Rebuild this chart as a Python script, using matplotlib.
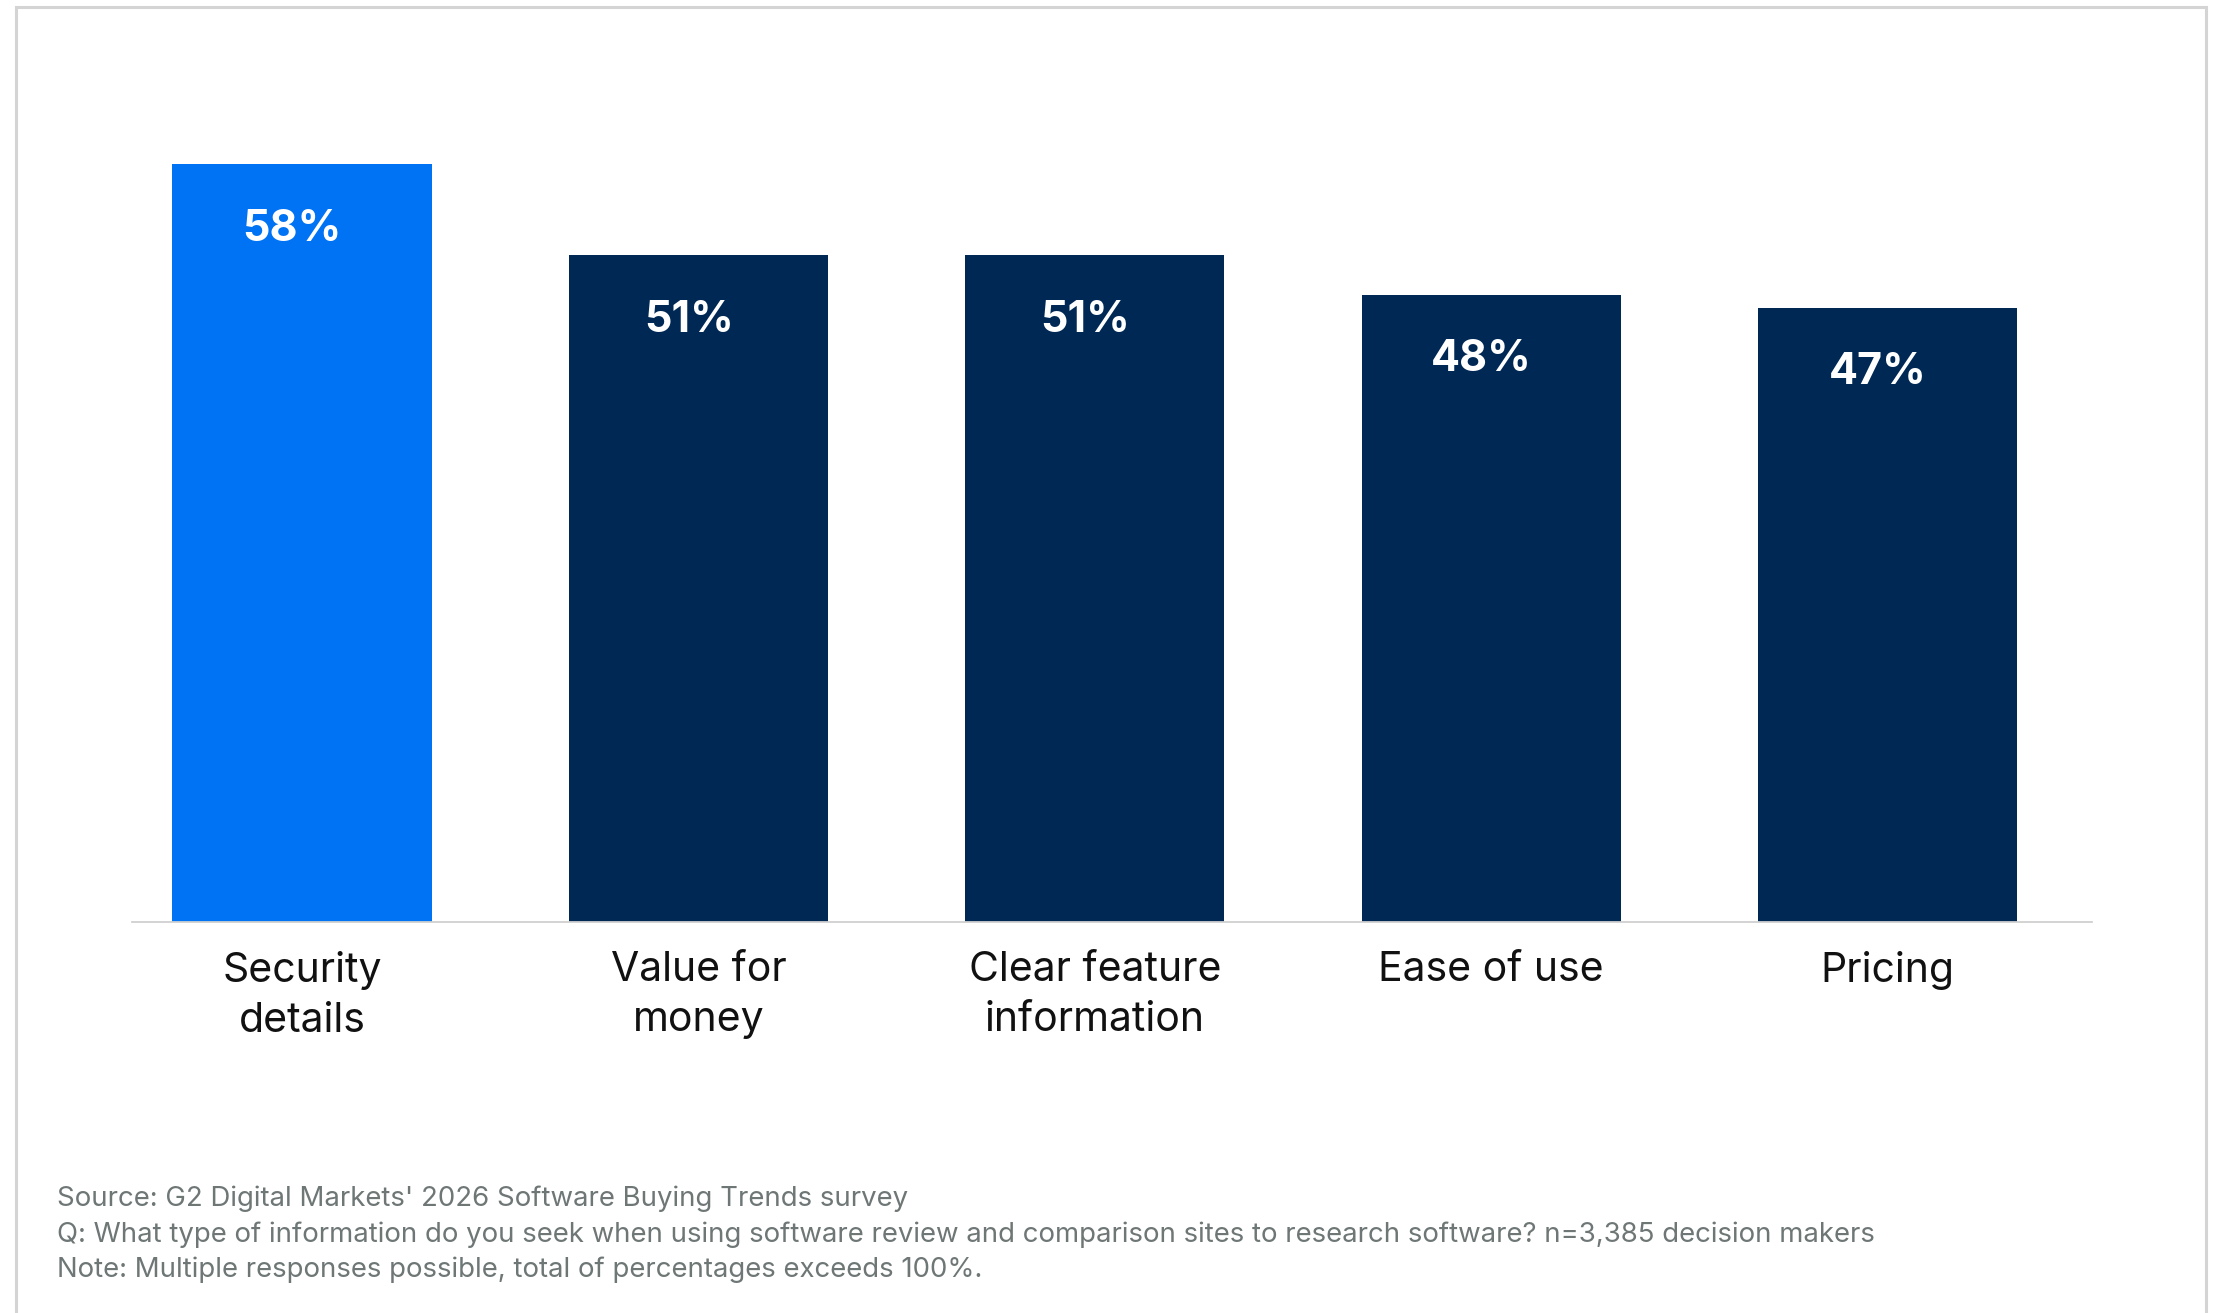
import matplotlib.pyplot as plt
from matplotlib.patches import Rectangle
import numpy as np

categories = ["Security\ndetails", "Value for\nmoney", "Clear feature\ninformation", "Ease of use", "Pricing"]
shares = [58, 51, 51, 48, 47]
bar_colors = ["#0073F5", "#002855", "#002855", "#002855", "#002855"]

footer_lines = [
    "Source: G2 Digital Markets' 2026 Software Buying Trends survey",
    "Q: What type of information do you seek when using software review and comparison sites to research software? n=3,385 decision makers",
    "Note: Multiple responses possible, total of percentages exceeds 100%.",
]

plt.rcParams["font.family"] = ["Inter", "DejaVu Sans"]

W, H, DPI = 2220, 1313, 100
fig = plt.figure(figsize=(W / DPI, H / DPI), dpi=DPI)

# axes placed in pixel terms: baseline at y=922 from top, 13.07 px per percent
ax_left, ax_right = 132, 2092
base_y = 922
px_per_pct = 13.07
ymax = 65
ax = fig.add_axes([ax_left / W, (H - base_y) / H,
                   (ax_right - ax_left) / W, ymax * px_per_pct / H])

x = np.arange(len(categories))
ax.bar(x, shares, width=0.654, color=bar_colors, zorder=2)
ax.set_xlim(-0.429, 4.516)
ax.set_ylim(0, ymax)

for xi, v in zip(x, shares):
    ax.annotate(f"{v}%", (xi, v), xytext=(-7, -47), textcoords="offset points",
                ha="center", va="center", color="white", fontsize=31, fontweight="bold")

for xi, lab in zip(x, categories):
    ax.annotate(lab, (xi, 0), xytext=(0, -21), textcoords="offset points",
                ha="center", va="top", color="#111111", fontsize=29.5, linespacing=1.4)

for side in ["top", "right", "left"]:
    ax.spines[side].set_visible(False)
ax.spines["bottom"].set_color("#d0d0d0")
ax.spines["bottom"].set_linewidth(1.3)
ax.set_xticks([])
ax.set_yticks([])

for i, line in enumerate(footer_lines):
    fig.text(57 / W, 1 - (1199 + i * 35.4) / H, line, ha="left", va="center",
             color="#6e7676", fontsize=19.85)

# light frame around the card, open at the bottom
frame = Rectangle((16 / W, -0.05), (2206 - 16) / W, 1.05 - 7 / H, transform=fig.transFigure,
                  fill=False, edgecolor="#d4d4d4", linewidth=2.2)
fig.add_artist(frame)

fig.savefig("out.png", dpi=DPI)
